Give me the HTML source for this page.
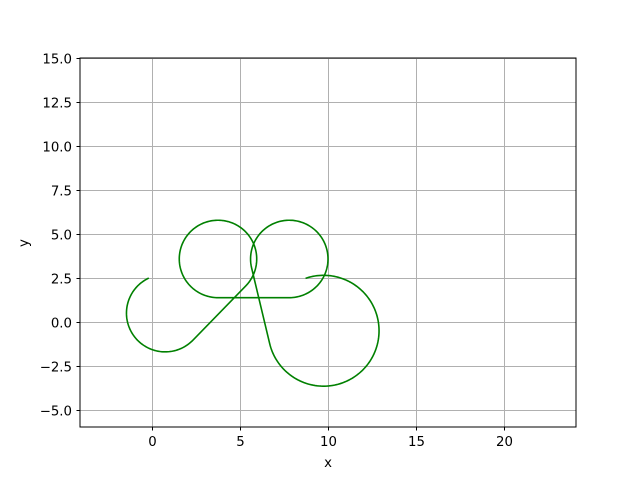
<!DOCTYPE html>
<html><head><meta charset="utf-8"><style>
body{margin:0;background:#fff}
svg text{font-family:"DejaVu Sans","Liberation Sans",sans-serif;font-size:13.3px;fill:#000}
</style></head><body>
<svg id="chart" width="640" height="480" xmlns="http://www.w3.org/2000/svg">
<rect width="640" height="480" fill="#fff"/>
<g id="grid"></g>
<path id="curve" fill="none" stroke="#008000" stroke-width="1.6"/>
<rect x="80" y="58" width="496" height="369" fill="none" stroke="#000" stroke-width="1"/>
<g id="ticks"></g>
<text x="328" y="467" text-anchor="middle">x</text>
<text x="28" y="243" text-anchor="middle" transform="rotate(-90 28 243)">y</text>
</svg>
<script>
const xTicks=[0,5,10,15,20];
const yTicks=[-5,-2.5,0,2.5,5,7.5,10,12.5,15];
const yTickLabels=["−5.0","−2.5","0.0","2.5","5.0","7.5","10.0","12.5","15.0"];
// arcs: centre x, centre y, radius, start angle, end angle (deg, CCW); consecutive arcs joined by straight lines
const arcCx=[0.75,3.75,7.8,9.75];
const arcCy=[0.5,3.58,3.58,-0.5];
const arcR=[2.2,2.2,2.2,3.15];
const arcA0=[115,-44.2,270,193.4];
const arcA1=[314,270,553.4,469];
const X0=-4.09,X1=24.09,Y0=-5.97,Y1=15;
const sx=v=>80+(v-X0)/(X1-X0)*496;
const sy=v=>427-(v-Y0)/(Y1-Y0)*369;
const NS="http://www.w3.org/2000/svg";
const grid=document.getElementById('grid'),ticks=document.getElementById('ticks');
function mk(tag,at,parent){const e=document.createElementNS(NS,tag);for(const k in at)e.setAttribute(k,at[k]);parent.appendChild(e);return e;}
xTicks.forEach(v=>{const x=Math.round(sx(v))+0.5;
 const g=mk('line',{x1:x,x2:x,y1:58,y2:427,stroke:'#b0b0b0','stroke-width':1},grid);
 
 
 const t=mk('line',{x1:x,x2:x,y1:427,y2:430.5,stroke:'#000'},ticks);
 
 
 const l=mk('text',{x:x,y:446,'text-anchor':'middle'},ticks);l.textContent=String(v);
 
 
});
yTicks.forEach((v,i)=>{const y=Math.round(sy(v))+0.5;
 const g=mk('line',{x1:80,x2:576,y1:y,y2:y,stroke:'#b0b0b0','stroke-width':1},grid);
 
 
 const t=mk('line',{x1:76.5,x2:80,y1:y,y2:y,stroke:'#000'},ticks);
 
 
 const l=mk('text',{x:72,y:y+4.8,'text-anchor':'end'},ticks);l.textContent=yTickLabels[i];
 
 
});
let d='';
for(let i=0;i<arcCx.length;i++){
 const n=Math.max(20,Math.ceil(Math.abs(arcA1[i]-arcA0[i])/2));
 for(let k=0;k<=n;k++){
  const a=(arcA0[i]+(arcA1[i]-arcA0[i])*k/n)*Math.PI/180;
  const px=sx(arcCx[i]+arcR[i]*Math.cos(a)),py=sy(arcCy[i]+arcR[i]*Math.sin(a));
  d+=(d===''?'M':'L')+px.toFixed(2)+' '+py.toFixed(2)+' ';
 }
}
document.getElementById('curve').setAttribute('d',d);
</script>
</body></html>
